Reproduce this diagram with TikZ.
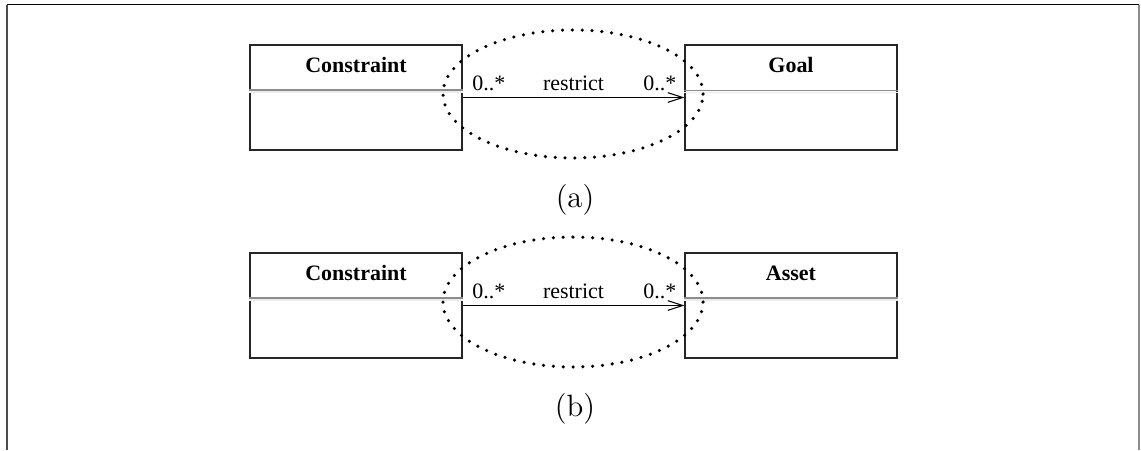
\documentclass[tikz,border=0pt]{standalone}
\usepackage{fontspec}
\newfontfamily\umlfont{Liberation Serif}
\newfontfamily\capfont{lmroman12-regular}[Extension=.otf]
\usetikzlibrary{arrows.meta}

\begin{document}
\begin{tikzpicture}[
		every node/.style={font=\umlfont\fontsize{12.5}{15}\selectfont},
		classbox/.style={draw=black!85,line width=0.6pt,minimum width=4.24cm,minimum height=2.1cm,inner sep=0pt},
		classname/.style={font=\umlfont\bfseries\fontsize{12.5}{15}\selectfont,inner sep=0pt},
		assoc/.style={line width=0.6pt,-{Straight Barb[length=8.5pt,width=5.5pt]}},
		circled/.style={line width=2pt,line cap=round,dash pattern=on 0pt off 5.6pt},
		caption/.style={font=\capfont\fontsize{17.5}{21}\selectfont}]
			% Page frame, cut off at the bottom.
			\useasboundingbox (0,0) rectangle (22.82,-9);
			\draw[black!70,line width=1.2pt] (0.14,-0.09) -- (0.14,-9);
			\draw[black!45,line width=1.2pt] (22.78,-0.09) -- (22.78,-9);
			\draw[line width=1pt] (0.14,-0.09) -- (22.78,-0.09);

			% (a) Constraint restricts Goal.
			\node[classbox] (consA) at (7.12,-1.95) {};
			\node[classbox] (goal) at (15.82,-1.95) {};
			\node[classname] at (7.12,-1.30) {Constraint};
			\node[classname] at (15.82,-1.30) {Goal};
			\draw[black!45,line width=1pt] (consA.west |- 0,-1.80) -- (consA.east |- 0,-1.80);
			\draw[black!8,line width=1pt] (consA.west |- 0,-1.84) -- (consA.east |- 0,-1.84);
			\draw[black!45,line width=1pt] (goal.west |- 0,-1.81) -- (goal.east |- 0,-1.81);
			\draw[black!8,line width=1pt] (goal.west |- 0,-1.85) -- (goal.east |- 0,-1.85);
			\draw[assoc] (consA.east) --
				node[pos=0,anchor=south west,xshift=2pt] {0..*}
				node[above] {restrict}
				node[pos=1,anchor=south east,xshift=-1pt] {0..*} (goal.west);
			\draw[circled] (11.46,-1.88) ellipse (2.6 and 1.28);
			\node[caption] (capA) at (11.5,-4.0) {(a)};

			% (b) Constraint restricts Asset.
			\node[classbox] (consB) at (7.12,-6.11) {};
			\node[classbox] (asset) at (15.82,-6.11) {};
			\node[classname] at (7.12,-5.46) {Constraint};
			\node[classname] at (15.82,-5.46) {Asset};
			\draw[black!45,line width=1pt] (consB.west |- 0,-5.96) -- (consB.east |- 0,-5.96);
			\draw[black!8,line width=1pt] (consB.west |- 0,-6.00) -- (consB.east |- 0,-6.00);
			\draw[black!45,line width=1pt] (asset.west |- 0,-5.96) -- (asset.east |- 0,-5.96);
			\draw[black!8,line width=1pt] (asset.west |- 0,-6.00) -- (asset.east |- 0,-6.00);
			\draw[assoc] (consB.east) --
				node[pos=0,anchor=south west,xshift=2pt] {0..*}
				node[above] {restrict}
				node[pos=1,anchor=south east,xshift=-1pt] {0..*} (asset.west);
			\draw[circled] (11.46,-6.04) ellipse (2.6 and 1.3);
			\node[caption] (capB) at (11.5,-8.18) {(b)};
		\end{tikzpicture}
\end{document}
